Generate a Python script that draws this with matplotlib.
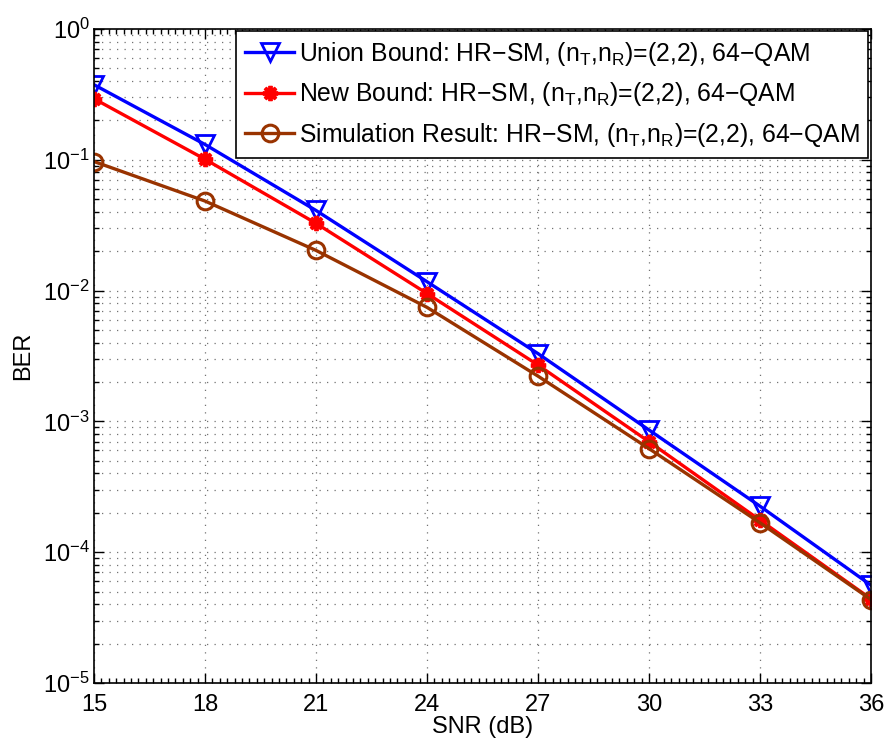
#!/usr/bin/env python3
"""
HR-SM BER: union bound, new bound and simulation, (nT,nR)=(2,2), 64-QAM
"""

import numpy as np
import matplotlib
matplotlib.use('Agg')
import matplotlib.pyplot as plt
from matplotlib.ticker import MultipleLocator, LogLocator, NullFormatter, FuncFormatter

plt.rcParams['font.family'] = ['Liberation Sans', 'DejaVu Sans']
plt.rcParams['mathtext.fontset'] = 'custom'
plt.rcParams['mathtext.rm'] = 'Liberation Sans'
plt.rcParams['mathtext.it'] = 'Liberation Sans'

# SNR points (dB)
snr = [15, 18, 21, 24, 27, 30, 33, 36]

# BER curves
ber_union = [0.375, 0.131, 0.041, 0.0117, 0.0033, 8.6e-4, 2.25e-4, 5.6e-5]
ber_new = [0.293, 0.101, 0.0327, 0.0095, 0.0027, 7.0e-4, 1.76e-4, 4.4e-5]
ber_sim = [0.097, 0.0484, 0.0203, 0.00745, 0.00222, 6.2e-4, 1.68e-4, 4.35e-5]

labels = [
    'Union Bound: HR\u2212SM, (n$_\\mathrm{T}$,n$_\\mathrm{R}$)=(2,2), 64\u2212QAM',
    'New Bound: HR\u2212SM, (n$_\\mathrm{T}$,n$_\\mathrm{R}$)=(2,2), 64\u2212QAM',
    'Simulation Result: HR\u2212SM, (n$_\\mathrm{T}$,n$_\\mathrm{R}$)=(2,2), 64\u2212QAM',
]


def pow10_label(v, pos):
    e = int(round(np.log10(v)))
    return '10$^{\\mathrm{%s}}$' % (str(e).replace('-', '\u2212'))


fig = plt.figure(figsize=(8.86, 7.4), dpi=100)
ax = fig.add_axes([0.1061, 0.077, 0.983 - 0.1061, 0.9608 - 0.077])

ax.semilogy(snr, ber_union, '-', color=(0, 0, 1), linewidth=2.4,
            marker='v', markersize=13, markerfacecolor='none',
            markeredgewidth=2.0, label=labels[0])
ax.semilogy(snr, ber_new, '-', color=(1, 0, 0), linewidth=2.4,
            marker=(8, 2, 0), markersize=11, markeredgewidth=2.8,
            label=labels[1])
ax.semilogy(snr, ber_sim, '-', color=(0.6, 0.2, 0.0), linewidth=2.4,
            marker='o', markersize=12, markerfacecolor='none',
            markeredgewidth=2.2, label=labels[2])

ax.set_xlim(15, 36)
ax.set_ylim(1e-5, 1e0)
ax.set_xticks(snr)
ax.xaxis.set_minor_locator(MultipleLocator(0.2))
ax.yaxis.set_major_locator(LogLocator(base=10, numticks=10))
ax.yaxis.set_major_formatter(FuncFormatter(pow10_label))
ax.yaxis.set_minor_locator(LogLocator(base=10, subs=np.arange(2, 10), numticks=20))
ax.yaxis.set_minor_formatter(NullFormatter())

ax.tick_params(which='both', direction='in', top=True, right=True,
               labelsize=17, width=1.0)
ax.tick_params(axis='x', pad=8)
ax.tick_params(axis='y', pad=3)
ax.tick_params(which='major', length=7)
ax.tick_params(which='minor', length=3.5)
for s in ax.spines.values():
    s.set_linewidth(1.2)

# dotted grid
ax.grid(True, which='major', axis='both', linestyle=(0, (1, 5)),
        color='0.45', linewidth=0.9)
ax.grid(True, which='minor', axis='y', linestyle=(0, (1, 5)),
        color='0.45', linewidth=0.9)

ax.set_xlabel('SNR (dB)', fontsize=17, labelpad=0)
ax.set_ylabel('BER', fontsize=17, labelpad=6)

leg = ax.legend(loc='upper right', fontsize=17.8, fancybox=False,
                framealpha=1, edgecolor='black', borderpad=0.35,
                handlelength=2.0, handletextpad=0.2, labelspacing=0.5,
                borderaxespad=0.1)
leg.get_frame().set_linewidth(1.2)

plt.savefig('out.png', dpi=100)
plt.close()
